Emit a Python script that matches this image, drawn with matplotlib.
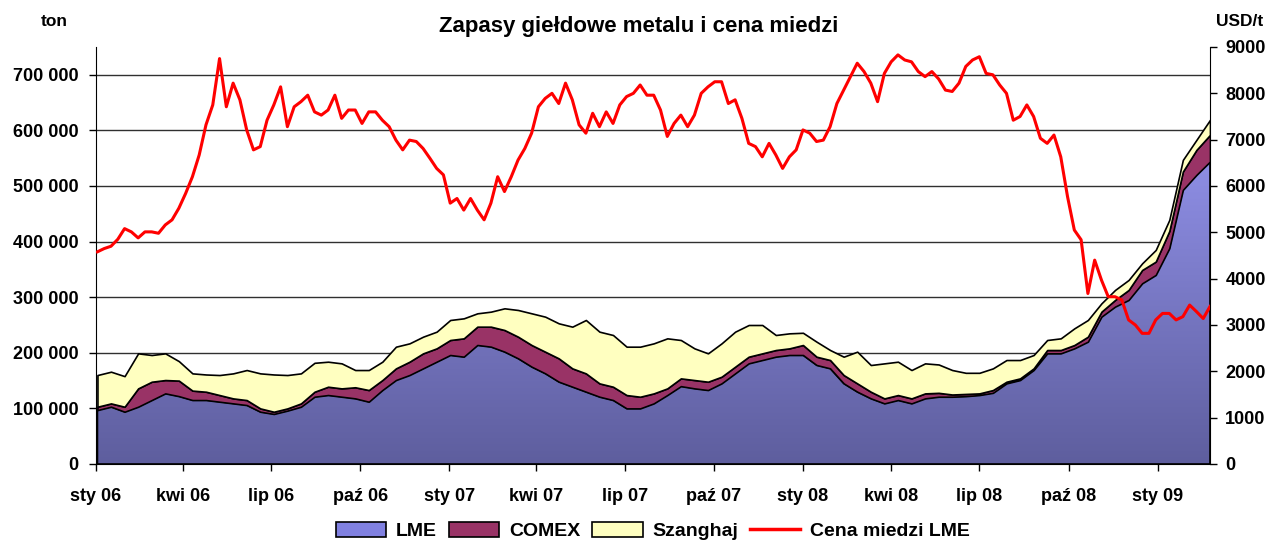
import numpy as np
import pandas as pd
import matplotlib
matplotlib.use('Agg')
from matplotlib import pyplot as plt
from matplotlib import dates as mdates
from matplotlib.ticker import FuncFormatter, MultipleLocator
from matplotlib.colors import LinearSegmentedColormap
from matplotlib.patches import Patch
from matplotlib.lines import Line2D

# stocks every two weeks (thousand tonnes), from 2006-01-03
lme = [97, 103, 94, 103, 115, 127, 122, 115, 115, 112, 109, 106, 94, 90, 96, 103,
       121, 124, 121, 118, 112, 133, 151, 160, 172, 184, 196, 193, 214, 211, 202, 190,
       175, 163, 148, 139, 130, 121, 115, 100, 100, 109, 124, 140, 136, 133, 145, 163,
       181, 187, 193, 196, 196, 178, 172, 145, 130, 118, 109, 115, 109, 118, 121, 121,
       122, 124, 128, 145, 151, 169, 199, 199, 208, 220, 265, 283, 295, 325, 340, 388,
       493, 520, 544]
comex = [6, 6, 9, 33, 33, 24, 28, 17, 15, 12, 9, 9, 6, 4, 4, 6,
         9, 15, 15, 20, 21, 18, 21, 24, 27, 24, 27, 33, 33, 36, 39, 39,
         39, 39, 42, 33, 33, 24, 24, 24, 21, 18, 12, 14, 15, 15, 12, 12,
         12, 12, 12, 12, 18, 15, 15, 15, 15, 12, 9, 9, 9, 9, 7, 4,
         4, 3, 5, 3, 3, 3, 6, 6, 6, 9, 9, 12, 18, 24, 24, 31,
         33, 45, 48]
shfe = [57, 57, 55, 63, 48, 48, 35, 31, 31, 36, 45, 54, 63, 67, 60, 54,
        52, 45, 45, 31, 36, 33, 39, 33, 30, 30, 36, 36, 24, 27, 39, 48,
        57, 63, 63, 75, 96, 93, 93, 87, 90, 90, 90, 69, 57, 51, 60, 63,
        57, 51, 27, 27, 22, 27, 18, 33, 57, 48, 63, 60, 51, 54, 51, 44,
        38, 37, 39, 39, 33, 24, 18, 21, 30, 30, 15, 18, 18, 12, 21, 20,
        21, 18, 27]

# weekly LME copper price, USD/t
price = [4580, 4650, 4700, 4850, 5080, 5010, 4880, 5010, 5010, 4980, 5160, 5270,
         5520, 5840, 6200, 6670, 7320, 7750, 8750, 7710, 8220, 7860, 7210, 6780,
         6850, 7420, 7750, 8140, 7280, 7710, 7820, 7960, 7600, 7530, 7640, 7960,
         7460, 7640, 7640, 7350, 7600, 7600, 7420, 7280, 6990, 6780, 6990, 6960,
         6810, 6600, 6380, 6240, 5630, 5730, 5480, 5730, 5480, 5270, 5630, 6200,
         5880, 6200, 6560, 6810, 7140, 7710, 7890, 8000, 7780, 8220, 7860, 7320,
         7140, 7570, 7280, 7600, 7350, 7750, 7930, 8000, 8180, 7960, 7960, 7640,
         7070, 7350, 7530, 7280, 7530, 8000, 8140, 8250, 8250, 7780, 7860, 7460,
         6920, 6850, 6630, 6920, 6670, 6380, 6630, 6780, 7210, 7140, 6960, 6990,
         7280, 7780, 8070, 8360, 8650, 8470, 8220, 7820, 8430, 8680, 8830, 8720,
         8680, 8470, 8360, 8470, 8310, 8070, 8040, 8220, 8580, 8720, 8790, 8430,
         8400, 8180, 8000, 7420, 7500, 7750, 7500, 7030, 6920, 7100, 6630, 5770,
         5050, 4840, 3680, 4400, 3970, 3610, 3610, 3540, 3110, 3000, 2820, 2820,
         3110, 3250, 3250, 3110, 3180, 3430, 3290, 3140, 3400]

months_pl = {1: 'sty', 4: 'kwi', 7: 'lip', 10: 'paź'}

plt.rcParams['font.family'] = ['Liberation Sans', 'DejaVu Sans']
plt.rcParams['font.weight'] = 'bold'

week_dates = pd.date_range('2006-01-03', periods=len(price), freq='7D')
stock_dates = week_dates[::2]
stocks_k = [np.array(s) * 1000 for s in (lme, comex, shfe)]

fig = plt.figure(figsize=(12.68, 5.43), dpi=100)
ax = fig.add_axes([95.5 / 1268, 79 / 543, 1114.5 / 1268, 417 / 543])

polys = ax.stackplot(stock_dates, *stocks_k,
                     colors=['none', '#993366', '#FFFFC0'],
                     edgecolor='black', linewidth=1.2, zorder=2)

# gradient fill for LME
x0 = mdates.date2num(pd.Timestamp('2006-01-01'))
x1 = mdates.date2num(week_dates[-1])
grad = np.linspace(0, 1, 256).reshape(-1, 1)
cmap = LinearSegmentedColormap.from_list('lme', ['#5E5E9E', '#A0A0FF'])
im = ax.imshow(grad, cmap=cmap, aspect='auto', origin='lower',
               extent=[x0, x1, 0, 750000], zorder=1.5)
im.set_clip_path(polys[0].get_paths()[0], transform=ax.transData)

ax.set_xlim(x0, x1)
ax.set_ylim(0, 750000)
ax.yaxis.set_major_locator(MultipleLocator(100000))
ax.yaxis.set_major_formatter(FuncFormatter(
    lambda v, p: f'{int(v):,}'.replace(',', ' ')))
ax.grid(axis='y', color='#303030', linewidth=1)
ax.set_axisbelow(True)

ax.xaxis.set_major_locator(mdates.MonthLocator(bymonth=[1, 4, 7, 10]))
ax.xaxis.set_major_formatter(FuncFormatter(
    lambda v, p: '%s %s' % (months_pl[mdates.num2date(v).month],
                            mdates.num2date(v).strftime('%y'))))

for s in ('top', 'right'):
    ax.spines[s].set_visible(False)
ax.tick_params(axis='y', direction='out', length=5, width=1, pad=7, labelsize=13)
ax.tick_params(axis='x', direction='out', length=5, width=1, pad=12, labelsize=13)

ax2 = ax.twinx()
ax2.plot(week_dates, price, color='#FF0000', linewidth=2.2, zorder=3)
ax2.set_ylim(0, 9000)
ax2.yaxis.set_major_locator(MultipleLocator(1000))
for s in ('top', 'left', 'bottom'):
    ax2.spines[s].set_visible(False)
ax2.tick_params(axis='y', direction='out', length=5, width=1, pad=6, labelsize=13)

fig.text(0.504, 0.952, 'Zapasy giełdowe metalu i cena miedzi',
         ha='center', va='center', fontsize=16, fontweight='bold')
fig.text(54 / 1268, 1 - 21 / 543, 'ton', ha='center', va='center', fontsize=12.5)
fig.text(1240 / 1268, 1 - 21 / 543, 'USD/t', ha='center', va='center', fontsize=12.5)

handles = [Patch(facecolor='#8080E0', edgecolor='black', linewidth=1.2),
           Patch(facecolor='#993366', edgecolor='black', linewidth=1.2),
           Patch(facecolor='#FFFFC0', edgecolor='black', linewidth=1.2),
           Line2D([], [], color='#FF0000', linewidth=2.5)]
fig.legend(handles, ['LME', 'COMEX', 'Szanghaj', 'Cena miedzi LME'],
           loc='center', bbox_to_anchor=(653 / 1268, 1 - 531 / 543), ncol=4,
           frameon=False, fontsize=14, handlelength=2.6, handleheight=0.8,
           handletextpad=0.5, columnspacing=0.6)

fig.savefig('out.png', dpi=100)
